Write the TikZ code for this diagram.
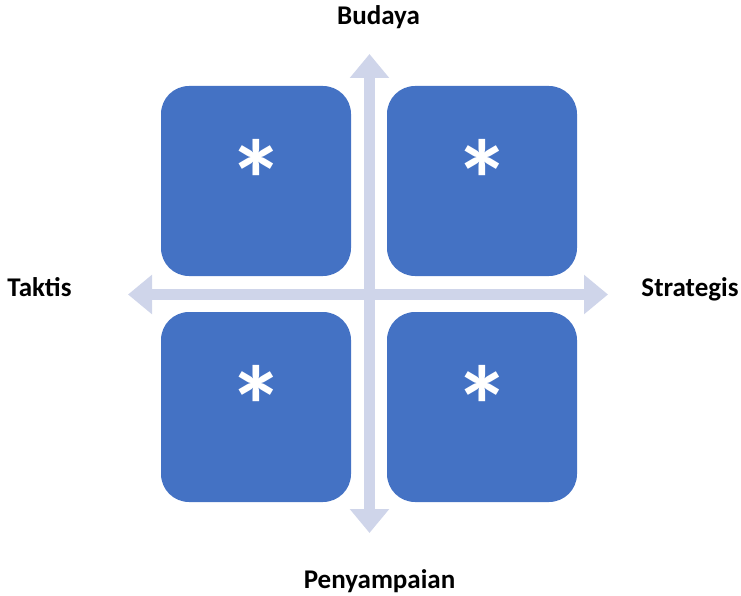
\documentclass[tikz,border=0pt]{standalone}
\usepackage{fontspec}
\setmainfont{Carlito}
\usetikzlibrary{arrows.meta}
\definecolor{tile}{HTML}{4472C4}
\definecolor{axis}{HTML}{CFD5EA}
\tikzset{
  tilebox/.style={fill=tile, draw=none, rounded corners=28pt, minimum width=190pt, minimum height=190pt, inner sep=0pt},
  star/.style={text=white, font=\bfseries\fontsize{112}{112}\selectfont, inner sep=0pt, anchor=base},
  axisline/.style={draw=axis, line width=11pt,
    {Triangle[length=24pt,width=38pt]}-{Triangle[length=24pt,width=38pt]}},
  axislabel/.style={font=\bfseries\fontsize{27}{27}\selectfont, inner sep=0pt, anchor=base}
}
\begin{document}
\begin{tikzpicture}[x=1pt,y=-1pt]
  \useasboundingbox (0,0) rectangle (741,596);
  % axes
  \coordinate (top) at (369.5,54);
  \coordinate (bottom) at (369.5,533);
  \coordinate (left) at (128,294.5);
  \coordinate (right) at (608,294.5);
  \draw[axisline] (top) -- (bottom);
  \draw[axisline] (left) -- (right);
  % quadrant tiles
  \node[tilebox] (tl) at (256,181) {};
  \node[tilebox] (tr) at (482,181) {};
  \node[tilebox] (bl) at (256,407) {};
  \node[tilebox] (br) at (482,407) {};
  % asterisks
  \node[star] (stl) at (256,219) {*};
  \node[star] (str) at (482,219) {*};
  \node[star] (sbl) at (256,445) {*};
  \node[star] (sbr) at (482,445) {*};
  % axis labels
  \node[axislabel] (budaya) at (378.5,25) {Budaya};
  \node[axislabel] (penyampaian) at (379.5,588) {Penyampaian};
  \node[axislabel] (taktis) at (39.5,296) {Taktis};
  \node[axislabel] (strategis) at (690,296) {Strategis};
\end{tikzpicture}
\end{document}
